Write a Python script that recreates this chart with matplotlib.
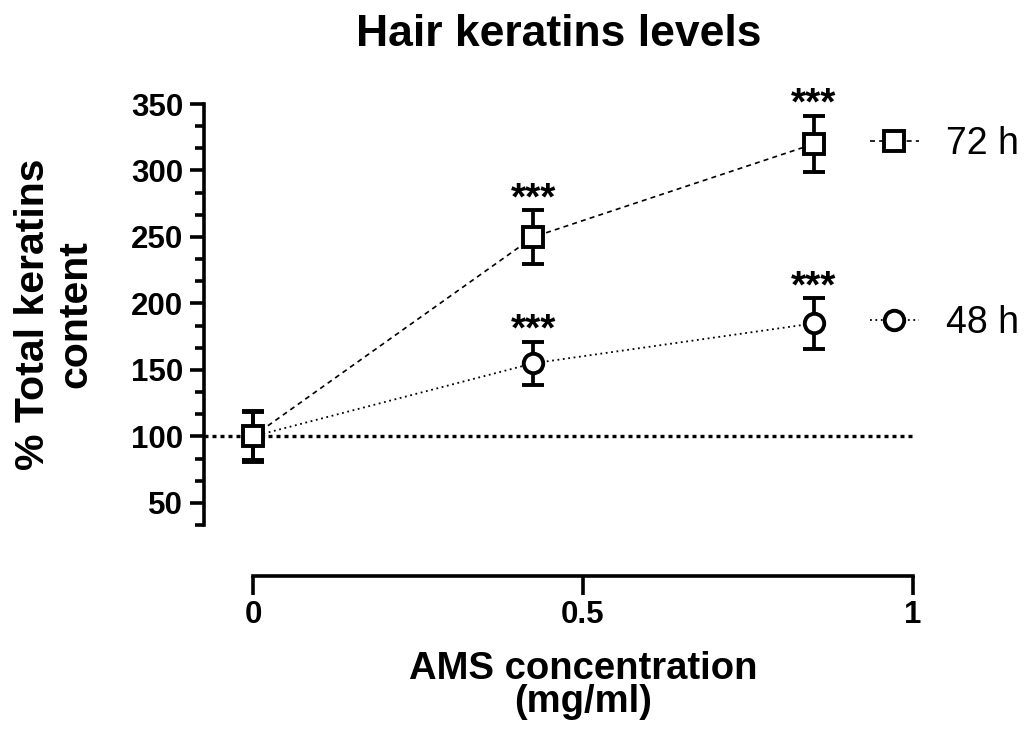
import matplotlib
matplotlib.use('Agg')
import matplotlib.pyplot as plt
from matplotlib.ticker import MultipleLocator

plt.rcParams['font.family'] = ['Liberation Sans', 'DejaVu Sans']

# AMS concentration (mg/ml)
conc = [0, 0.425, 0.85]
# 72 h series
mean_72 = [100, 250, 320]
err_72 = [19, 20, 21]
# 48 h series
mean_48 = [100, 155, 185]
err_48 = [18, 16, 19]
stars = ['', '***', '***']

fig = plt.figure(figsize=(10.25, 7.31), dpi=100)
ax = fig.add_axes([0.199, 0.2818, 0.6917, 0.5759])

ax.axhline(100, color='black', lw=2.4, ls=(0, (1.2, 1.2)), zorder=1)

eb48 = ax.errorbar(conc, mean_48, yerr=err_48, color='black', lw=1.3, ls=(0, (1, 2)),
                   marker='o', ms=14, mfc='white', mec='black', mew=2.8,
                   ecolor='black', elinewidth=2.7, capsize=8, capthick=2.7, zorder=3)
eb72 = ax.errorbar(conc, mean_72, yerr=err_72, color='black', lw=1.2, ls=(0, (3, 2.5)),
                   marker='s', ms=14, mfc='white', mec='black', mew=2.8,
                   ecolor='black', elinewidth=2.7, capsize=8, capthick=2.7, zorder=4)

for x, m, e, s in zip(conc, mean_72, err_72, stars):
    ax.annotate(s, (x, m + e), xytext=(0, -5), textcoords='offset points',
                ha='center', va='bottom', fontsize=28, fontweight='bold')
for x, m, e, s in zip(conc, mean_48, err_48, stars):
    ax.annotate(s, (x, m + e), xytext=(0, -5), textcoords='offset points',
                ha='center', va='bottom', fontsize=28, fontweight='bold')

ax.set_xlim(-0.0742, 1.0)
ax.set_ylim(100 / 3, 350)
ax.spines['top'].set_visible(False)
ax.spines['right'].set_visible(False)
ax.spines['left'].set_bounds(100 / 3, 350)
ax.spines['bottom'].set_bounds(0, 1)
ax.spines['bottom'].set_position(('outward', 37))
for sp in ('left', 'bottom'):
    ax.spines[sp].set_linewidth(2.6)

ax.yaxis.set_major_locator(MultipleLocator(50))
ax.yaxis.set_minor_locator(MultipleLocator(50 / 3))
ax.set_xticks([0, 0.5, 1])
ax.set_xticklabels(['0', '0.5', '1'])
ax.tick_params(axis='y', which='major', length=10, width=2.6, labelsize=22.5, pad=5)
ax.tick_params(axis='y', which='minor', length=6.5, width=2.6)
ax.tick_params(axis='x', which='major', length=14, width=2.6, labelsize=22.5, pad=3)
for lab in ax.get_xticklabels() + ax.get_yticklabels():
    lab.set_fontweight('bold')

ax.set_title('Hair keratins levels', fontsize=32, fontweight='bold', pad=42)
ax.set_ylabel('% Total keratins\ncontent', fontsize=29.5, fontweight='bold', linespacing=1.15)
ax.yaxis.set_label_coords(-0.155, 0.5)
ax.set_xlabel('AMS concentration\n(mg/ml)', fontsize=27.5, fontweight='bold', linespacing=0.9)
ax.xaxis.set_label_coords(0.535, -0.30)

leg72 = ax.legend(handles=[eb72.lines[0]], labels=['72 h'], loc='center left',
                  bbox_to_anchor=(0.9346, mean_72[-1]), bbox_transform=ax.transData,
                  frameon=False, fontsize=27, handlelength=1.3, handletextpad=0.72,
                  borderpad=0, borderaxespad=0)
ax.add_artist(leg72)
leg48 = ax.legend(handles=[eb48.lines[0]], labels=['48 h'], loc='center left',
                  bbox_to_anchor=(0.9346, mean_48[-1]), bbox_transform=ax.transData,
                  frameon=False, fontsize=27, handlelength=1.3, handletextpad=0.72,
                  borderpad=0, borderaxespad=0)

fig.savefig('out.png', dpi=100)
